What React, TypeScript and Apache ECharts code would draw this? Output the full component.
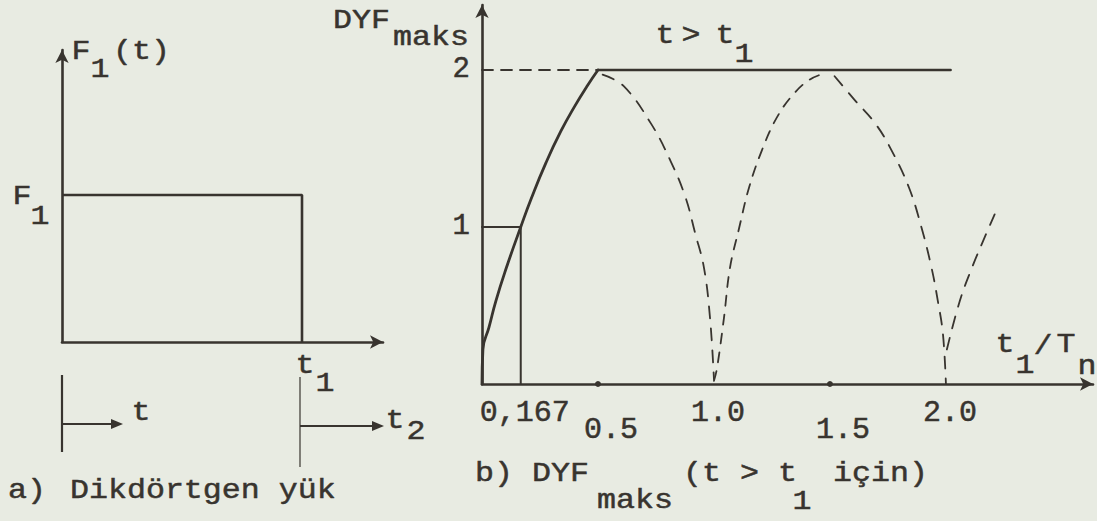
import React, { useEffect, useRef } from "react";
import * as echarts from "echarts";

const INK = "#38342f";
const PAPER = "#e8ebe2";
const FONT = '"Liberation Mono", "Courier New", monospace';

// ---- a) rectangular load F1(t) (t in units of t1, F in units of F1)
const loadT = [0, 1, 1];
const loadF = [1, 1, 0];

// ---- b) DYF_maks vs t1/Tn
// solid rising branch (t1/Tn <= 0.5)
const riseX = [0, 0.004, 0.03, 0.06, 0.105, 0.167, 0.212, 0.276, 0.34, 0.4, 0.452, 0.5];
const riseY = [0, 0.22, 0.36, 0.53, 0.74, 1.0, 1.18, 1.41, 1.61, 1.77, 1.895, 2.0];
// solid plateau DYF = 2
const plateauX = [0.5, 2.02];
const plateauY = [2, 2];
// dashed guide to the y axis at DYF = 2
const guideX = [0, 0.5];
const guideY = [2, 2];
// reference box at t1/Tn = 0.167, DYF = 1
const boxX = [0, 0.167, 0.167];
const boxY = [1, 1, 0];
// dashed arcs (t > t1 response)
const arc1X = [0.52, 0.609, 0.728, 0.813, 0.877, 0.919, 0.957, 0.983, 1.0];
const arc1Y = [1.97, 1.9, 1.66, 1.42, 1.19, 0.96, 0.74, 0.42, 0.03];
const arc2X = [1.0, 1.013, 1.043, 1.069, 1.108, 1.151, 1.207, 1.272, 1.345, 1.414, 1.48];
const arc2Y = [0.02, 0.1, 0.42, 0.74, 0.99, 1.25, 1.49, 1.7, 1.85, 1.94, 1.98];
const arc3X = [1.52, 1.606, 1.695, 1.765, 1.841, 1.894, 1.938, 1.965, 1.987, 2.0];
const arc3Y = [1.96, 1.81, 1.66, 1.49, 1.25, 1.0, 0.74, 0.53, 0.32, 0.0];
const arc4X = [2.004, 2.06, 2.112, 2.16, 2.21];
const arc4Y = [0.22, 0.53, 0.74, 0.91, 1.08];

const xTickValues = [0.167, 0.5, 1.0, 1.5, 2.0];
const xTickLabels = ["0,167", "0.5", "1.0", "1.5", "2.0"];
const axisDots = [0.5, 1.5];
const yTickLabels = ["1", "2"];

const pts = (xs: number[], ys: number[]) => xs.map((x, i) => [x, ys[i]]);

const TXT_SIZE = 28;
const TXT_SCALE = 1.13;

const txt = (text: string, x: number, y: number, align: string = "center") => ({
  type: "text",
  silent: true,
  x,
  y,
  scaleX: TXT_SCALE,
  style: {
    text,
    x: 0,
    y: 0,
    font: `${TXT_SIZE}px ${FONT}`,
    fill: INK,
    stroke: INK,
    lineWidth: 0.5,
    align,
    verticalAlign: "middle",
    textAlign: align,
    textVerticalAlign: "middle",
  },
});

const seg = (x1: number, y1: number, x2: number, y2: number, w: number) => ({
  type: "line",
  silent: true,
  shape: { x1, y1, x2, y2 },
  style: { stroke: INK, lineWidth: w },
});

const arrowHead = (tipX: number, y: number) => ({
  type: "polygon",
  silent: true,
  shape: { points: [[tipX, y], [tipX - 12, y - 5], [tipX - 12, y + 5]] },
  style: { fill: INK },
});

export default function App() {
  const ref = useRef<HTMLDivElement>(null);

  useEffect(() => {
    document.body.style.margin = "0";
    if (!ref.current) return;
    const chart = echarts.init(ref.current, null, { renderer: "svg" });

    const axisLineStyle = () => ({
      show: true,
      symbol: ["none", "arrow"],
      symbolSize: [10, 13],
      lineStyle: { color: INK, width: 2.6 },
    });

    const line = (data: number[][], width: number, dash?: number[], smooth: boolean | number = false) => ({
      type: "line",
      xAxisIndex: 1,
      yAxisIndex: 1,
      data,
      symbol: "none",
      smooth,
      silent: true,
      clip: false,
      lineStyle: { color: INK, width, type: dash ? dash : "solid", cap: "round" },
    });

    const option: any = {
      animation: false,
      backgroundColor: PAPER,
      grid: [
        { left: 62, top: 50, width: 321, height: 292, containLabel: false, outerBoundsMode: "none" },
        { left: 482, top: 5, width: 611, height: 379, containLabel: false, outerBoundsMode: "none" },
      ],
      xAxis: [
        {
          gridIndex: 0, type: "value", min: 0, max: 1.3375,
          axisLine: axisLineStyle(), axisTick: { show: false }, axisLabel: { show: false }, splitLine: { show: false },
        },
        {
          gridIndex: 1, type: "value", min: 0, max: 2.634,
          axisLine: axisLineStyle(), axisTick: { show: false }, axisLabel: { show: false }, splitLine: { show: false },
        },
      ],
      yAxis: [
        {
          gridIndex: 0, type: "value", min: 0, max: 1.986,
          axisLine: axisLineStyle(), axisTick: { show: false }, axisLabel: { show: false }, splitLine: { show: false },
        },
        {
          gridIndex: 1, type: "value", min: 0, max: 2.414, interval: 1,
          axisLine: axisLineStyle(), axisTick: { show: false }, splitLine: { show: false },
          axisLabel: {
            show: true,
            margin: 12,
            color: INK,
            fontFamily: FONT,
            fontSize: 29,
            textBorderColor: INK,
            textBorderWidth: 0.5,
            padding: [0, 0, 8, 0],
            formatter: (v: number) => (v === 1 ? yTickLabels[0] : v === 2 ? yTickLabels[1] : ""),
          },
        },
      ],
      series: [
        {
          type: "line",
          xAxisIndex: 0,
          yAxisIndex: 0,
          data: pts(loadT, loadF),
          symbol: "none",
          silent: true,
          clip: false,
          lineStyle: { color: INK, width: 2.6 },
        },
        line(pts(boxX, boxY), 2),
        line(pts(riseX, riseY), 2.8, undefined, 0.5),
        line(pts(plateauX, plateauY), 2.6),
        line(pts(guideX, guideY), 1.8, [11, 8]),
        line(pts(arc1X, arc1Y), 1.8, [12, 10], 0.4),
        line(pts(arc2X, arc2Y), 1.8, [10, 9], 0.4),
        line(pts(arc3X, arc3Y), 1.8, [12, 10], 0.4),
        line(pts(arc4X, arc4Y), 1.8, [12, 10], 0.4),
        {
          type: "scatter",
          xAxisIndex: 1,
          yAxisIndex: 1,
          silent: true,
          symbolSize: 6,
          itemStyle: { color: INK, opacity: 1 },
          data: axisDots.map((v) => [v, 0]),
        },
        {
          type: "scatter",
          xAxisIndex: 1,
          yAxisIndex: 1,
          silent: true,
          symbolSize: 0,
          itemStyle: { color: INK, opacity: 1 },
          data: xTickValues.map((v, i) => ({
            value: [v, 0],
            label: i % 2 === 1 ? { distance: 31, offset: [13, 0] } : { distance: 14, offset: [4, 0] },
          })),
          label: {
            show: true,
            position: "bottom",
            color: INK,
            opacity: 1,
            fontFamily: FONT,
            fontSize: 30,
            textBorderColor: INK,
            textBorderWidth: 0.5,
            formatter: (p: any) => xTickLabels[p.dataIndex],
          },
        },
      ],
      graphic: {
        elements: [
          // a) labels
          txt("F", 81, 52),
          txt("1", 100, 70),
          txt("(t)", 113, 52, "left"),
          txt("F", 22, 197),
          txt("1", 40, 217),
          txt("t", 305, 366),
          txt("1", 325, 384),
          // a) time markers
          seg(62, 375, 62, 452, 2.2),
          seg(62, 424, 112, 424, 2.2),
          arrowHead(123, 424),
          txt("t", 141, 413),
          seg(300, 377, 300, 467, 1.2),
          seg(300, 426, 373, 426, 2.2),
          arrowHead(384, 426),
          txt("t", 395, 421),
          txt("2", 416, 432),
          txt("a)", 8, 491, "left"),
          txt("Dikdörtgen yük", 70, 491, "left"),
          // b) labels
          txt("DYF", 333, 21, "left"),
          txt("maks", 393, 38, "left"),
          txt("t", 665, 36),
          txt(">", 691, 36),
          txt("t", 725, 36),
          txt("1", 744, 55),
          txt("t", 1005, 345),
          txt("1", 1025, 366),
          txt("/", 1043, 347),
          txt("T", 1066, 345),
          txt("n", 1087, 367),
          txt("b) DYF", 475, 474, "left"),
          txt("maks", 597, 501, "left"),
          txt("(t > t", 683, 474, "left"),
          txt("1", 802, 502),
          txt("için)", 833, 474, "left"),
        ],
      },
    };

    chart.setOption(option);
    return () => chart.dispose();
  }, []);

  return (
    <div
      ref={ref}
      style={{ position: "absolute", left: 0, top: 0, width: 1097, height: 521 }}
    />
  );
}
